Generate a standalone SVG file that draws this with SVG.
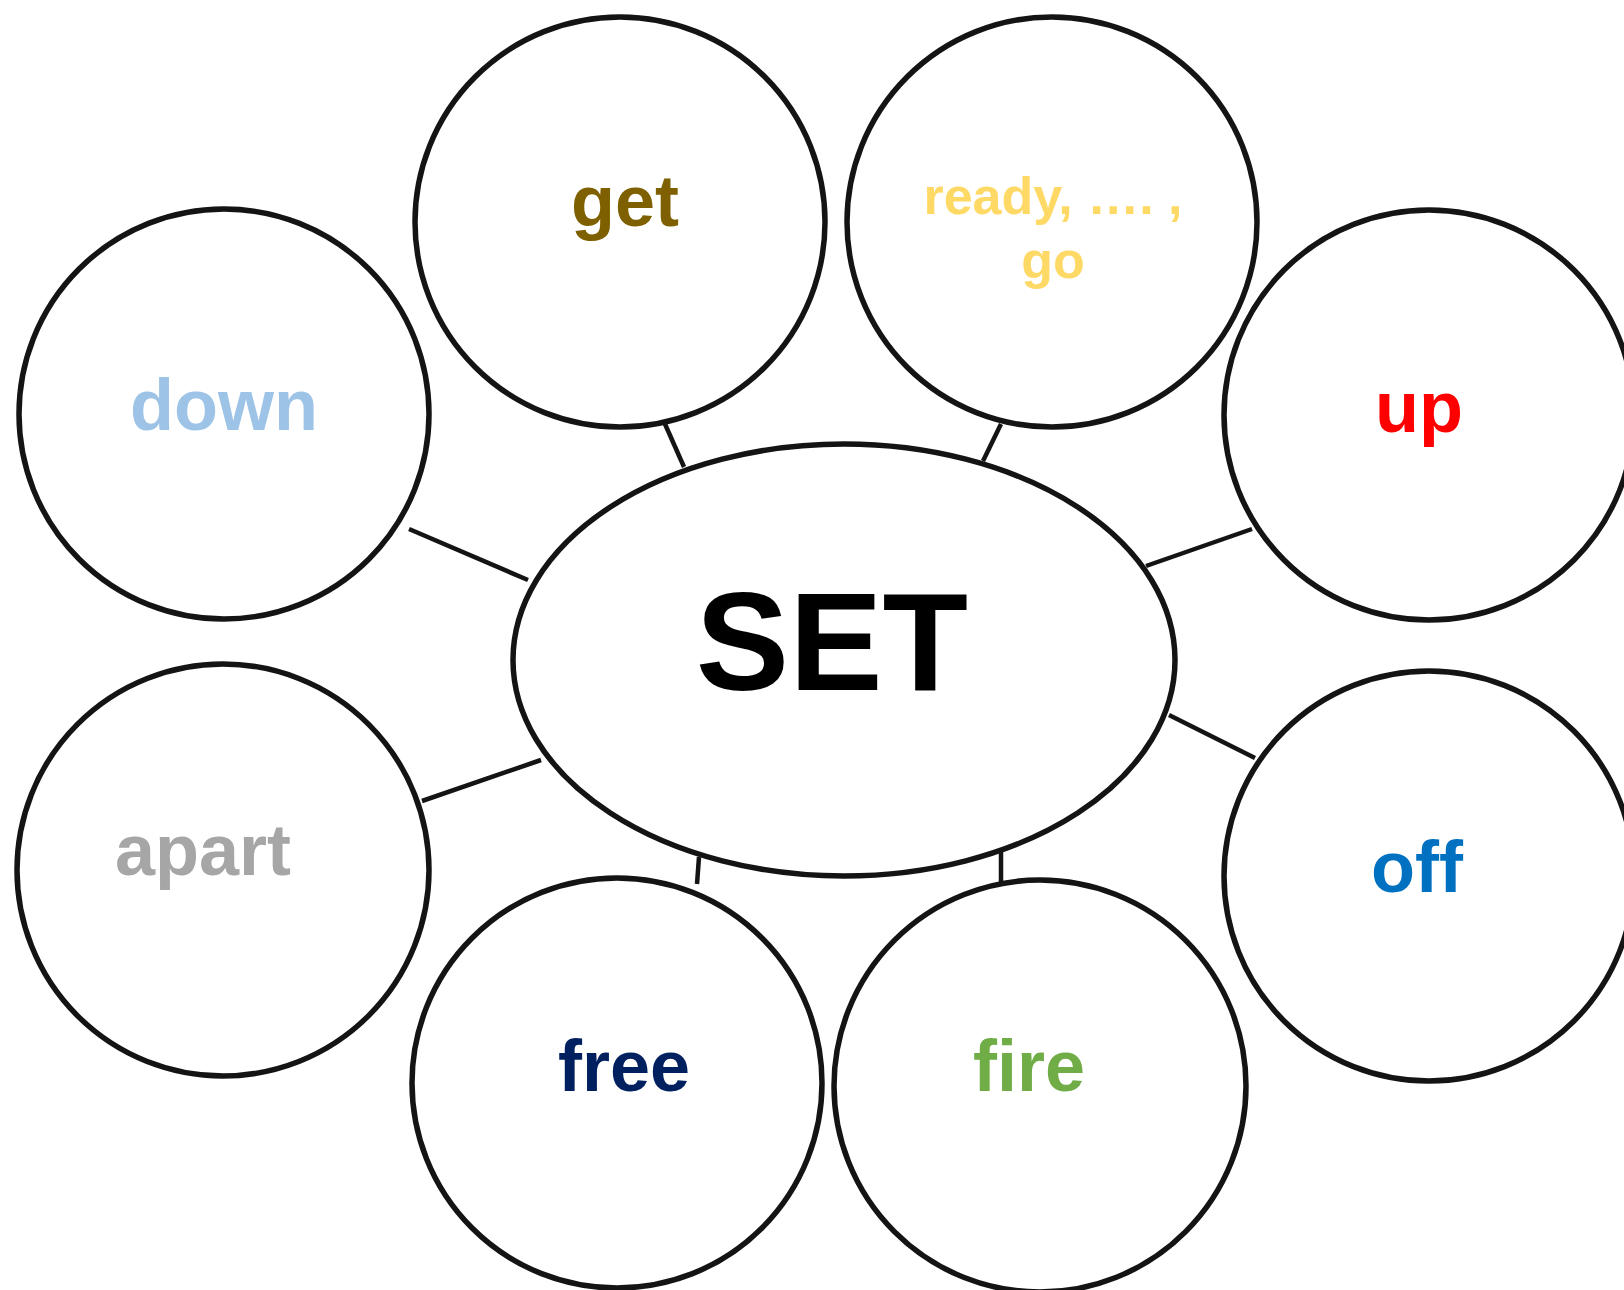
<svg xmlns="http://www.w3.org/2000/svg" width="1624" height="1290" viewBox="0 0 1624 1290">
<style>
.shape{fill:none;stroke:#141414;stroke-width:5.5}
.con{stroke:#141414;stroke-width:4.5;fill:none}
.lbl{font-family:"Liberation Sans",Arial,sans-serif;font-weight:bold;font-size:72px;text-anchor:middle}
</style>
<rect width="1624" height="1290" fill="#ffffff"/>
<g id="connectors">
<line class="con" x1="665" y1="424" x2="684" y2="467"/>
<line class="con" x1="1001" y1="424" x2="983" y2="461"/>
<line class="con" x1="409" y1="529" x2="528" y2="580"/>
<line class="con" x1="1252" y1="529" x2="1146" y2="566"/>
<line class="con" x1="422" y1="801" x2="541" y2="760"/>
<line class="con" x1="1169" y1="715" x2="1255" y2="758"/>
<line class="con" x1="697" y1="884" x2="699" y2="857"/>
<line class="con" x1="1001" y1="882" x2="1001" y2="851"/>
</g>
<g id="set">
<ellipse class="shape" cx="844" cy="660" rx="331" ry="216"/>
<text class="lbl" x="832" y="690" style="font-size:140px" fill="#000000">SET</text>
</g>
<g id="get">
<circle class="shape" cx="620" cy="222" r="205"/>
<text class="lbl" x="625" y="226" fill="#7F6000">get</text>
</g>
<g id="ready">
<circle class="shape" cx="1052" cy="222" r="205"/>
<text class="lbl" x="1053" y="214" style="font-size:52px" fill="#FFD966">ready, …. ,</text>
<text class="lbl" x="1053" y="278" style="font-size:52px" fill="#FFD966">go</text>
</g>
<g id="down">
<circle class="shape" cx="224" cy="414" r="205"/>
<text class="lbl" x="224" y="430" fill="#9DC3E6">down</text>
</g>
<g id="up">
<circle class="shape" cx="1429" cy="415" r="205"/>
<text class="lbl" x="1419" y="432" fill="#FF0000">up</text>
</g>
<g id="apart">
<circle class="shape" cx="223" cy="870" r="206"/>
<text class="lbl" x="203" y="875" fill="#A6A6A6">apart</text>
</g>
<g id="off">
<circle class="shape" cx="1429" cy="876" r="205"/>
<text class="lbl" x="1417" y="892" fill="#0070C0">off</text>
</g>
<g id="free">
<circle class="shape" cx="617" cy="1083" r="205"/>
<text class="lbl" x="624" y="1091" fill="#002060">free</text>
</g>
<g id="fire">
<circle class="shape" cx="1040" cy="1086" r="206"/>
<text class="lbl" x="1029" y="1091" fill="#70AD47">fire</text>
</g>
</svg>
